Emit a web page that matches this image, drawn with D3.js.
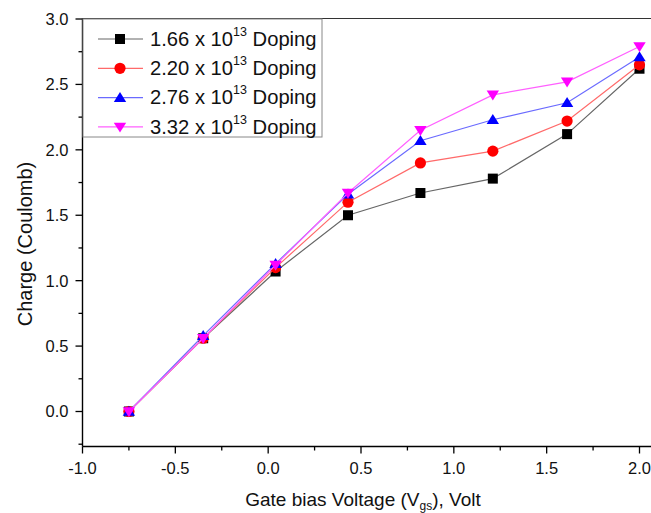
<!DOCTYPE html>
<html>
<head>
<meta charset="utf-8">
<script src="https://cdn.jsdelivr.net/npm/d3@7"></script>
<style>
  html, body { margin: 0; padding: 0; background: #fff; }
  svg { display: block; font-family: "Liberation Sans", Arial, sans-serif; }
</style>
</head>
<body>
<svg id="chart" width="651" height="513"></svg>
<script>
// Gate bias voltage (V)
const voltages = [-0.75, -0.35, 0.04, 0.43, 0.82, 1.21, 1.61, 2.0];

// Charge for each doping level
const doping166 = [0, 0.56, 1.07, 1.50, 1.67, 1.78, 2.12, 2.62];
const doping220 = [0, 0.56, 1.10, 1.60, 1.90, 1.99, 2.22, 2.65];
const doping276 = [0, 0.58, 1.13, 1.66, 2.07, 2.23, 2.36, 2.71];
const doping332 = [0, 0.56, 1.12, 1.67, 2.15, 2.42, 2.52, 2.79];

const seriesNames = ["1.66", "2.20", "2.76", "3.32"];
const xTicks = [-1.0, -0.5, 0.0, 0.5, 1.0, 1.5, 2.0];
const yTicks = [0.0, 0.5, 1.0, 1.5, 2.0, 2.5, 3.0];

const series = [
  { name: seriesNames[0], values: doping166, line: "#666666", fill: "#000000", shape: "square" },
  { name: seriesNames[1], values: doping220, line: "#ff6a6a", fill: "#ff0000", shape: "circle" },
  { name: seriesNames[2], values: doping276, line: "#6a6aff", fill: "#0000ff", shape: "up" },
  { name: seriesNames[3], values: doping332, line: "#ff60ff", fill: "#ff00ff", shape: "down" }
];

const svg = d3.select("#chart");
const padLeft = 82.5, padTop = 18.5, axisBottom = 446.5, plotRight = 660;
const fmt = d => d.toFixed(1);

const x = d3.scaleLinear().domain([-1.0, 2.0]).range([padLeft, 639.5]);
const y = d3.scaleLinear().domain([0.0, 3.0]).range([411.5, padTop + 0.5]);

// Top frame line
svg.append("line")
  .attr("x1", padLeft).attr("x2", plotRight).attr("y1", padTop).attr("y2", padTop)
  .attr("stroke", "#333").attr("stroke-width", 1);

// X axis (major + minor ticks)
const xAxisG = svg.append("g").attr("transform", `translate(0,${axisBottom})`);
xAxisG.append("line").attr("x1", padLeft).attr("x2", plotRight).attr("stroke", "#000").attr("stroke-width", 1.4);
const xMinor = d3.range(-1.0, 2.26, 0.25);
xAxisG.selectAll("line.minor").data(xMinor).join("line")
  .attr("class", "minor")
  .attr("x1", d => x(d)).attr("x2", d => x(d))
  .attr("y1", 0).attr("y2", d => (Math.abs(d * 2 - Math.round(d * 2)) < 1e-6 ? 7 : 4))
  .attr("stroke", "#000").attr("stroke-width", 1.3);
xAxisG.selectAll("text").data(xTicks).join("text")
  .attr("x", d => x(d)).attr("y", 27.5)
  .attr("text-anchor", "middle")
  .attr("font-size", 16.5).attr("fill", "#111")
  .text(fmt);

// Y axis
const yAxisG = svg.append("g").attr("transform", `translate(${padLeft},0)`);
yAxisG.append("line").attr("y1", padTop).attr("y2", axisBottom).attr("stroke", "#000").attr("stroke-width", 1.4);
const yMinor = d3.range(-0.25, 3.01, 0.25);
yAxisG.selectAll("line.minor").data(yMinor).join("line")
  .attr("class", "minor")
  .attr("y1", d => y(d)).attr("y2", d => y(d))
  .attr("x1", 0).attr("x2", d => (Math.abs(d * 2 - Math.round(d * 2)) < 1e-6 ? -7 : -4))
  .attr("stroke", "#000").attr("stroke-width", 1.3);
yAxisG.selectAll("text").data(yTicks).join("text")
  .attr("x", -14).attr("y", d => y(d)).attr("dy", "0.36em")
  .attr("text-anchor", "end")
  .attr("font-size", 16.5).attr("fill", "#111")
  .text(fmt);

// Axis titles
svg.append("text")
  .attr("transform", `translate(32,244) rotate(-90)`)
  .attr("text-anchor", "middle").attr("font-size", 20).attr("fill", "#111")
  .text("Charge (Coulomb)");

const xt = svg.append("text")
  .attr("x", 363).attr("y", 505.5)
  .attr("text-anchor", "middle").attr("font-size", 19).attr("fill", "#111");
xt.append("tspan").text("Gate bias Voltage (V");
xt.append("tspan").attr("font-size", 12).attr("dy", 4).text("gs");
xt.append("tspan").attr("dy", -4).text("), Volt");

// Marker drawing
function marker(g, shape, fill, s) {
  if (shape === "square") {
    g.append("rect").attr("x", -s / 2).attr("y", -s / 2).attr("width", s).attr("height", s).attr("fill", fill);
  } else if (shape === "circle") {
    g.append("circle").attr("r", s / 2 + 0.6).attr("fill", fill);
  } else if (shape === "up") {
    const h = s * 0.95;
    g.append("path").attr("d", `M0,${-h * 0.6}L${s * 0.62},${h * 0.45}L${-s * 0.62},${h * 0.45}Z`).attr("fill", fill);
  } else {
    const h = s * 0.95;
    g.append("path").attr("d", `M0,${h * 0.6}L${s * 0.62},${-h * 0.45}L${-s * 0.62},${-h * 0.45}Z`).attr("fill", fill);
  }
}

const lineGen = d3.line().x(d => x(d[0])).y(d => y(d[1]));

series.forEach(s => {
  const pts = voltages.map((v, i) => [v, s.values[i]]);
  svg.append("path").datum(pts)
    .attr("d", lineGen).attr("fill", "none")
    .attr("stroke", s.line).attr("stroke-width", 1.2);
  pts.forEach(p => {
    const g = svg.append("g").attr("transform", `translate(${x(p[0])},${y(p[1])})`);
    marker(g, s.shape, s.fill, 10);
  });
});

// Legend
const lg = svg.append("g");
lg.append("rect").attr("x", padLeft + 0.5).attr("y", padTop + 0.5).attr("width", 239).attr("height", 118)
  .attr("fill", "#fff").attr("stroke", "#888").attr("stroke-width", 1);
series.forEach((s, i) => {
  const cy = 39 + i * 29.3;
  lg.append("line").attr("x1", 98).attr("x2", 143).attr("y1", cy).attr("y2", cy)
    .attr("stroke", s.line).attr("stroke-width", 1.2);
  const g = lg.append("g").attr("transform", `translate(120,${cy})`);
  marker(g, s.shape, s.fill, 10);
  const t = lg.append("text").attr("x", 150).attr("y", cy + 6.8)
    .attr("font-size", 20.2).attr("fill", "#111");
  t.append("tspan").text(`${s.name} x 10`);
  t.append("tspan").attr("font-size", 12.5).attr("dy", -10).text("13");
  t.append("tspan").attr("dy", 10).text(" Doping");
});
</script>
</body>
</html>
